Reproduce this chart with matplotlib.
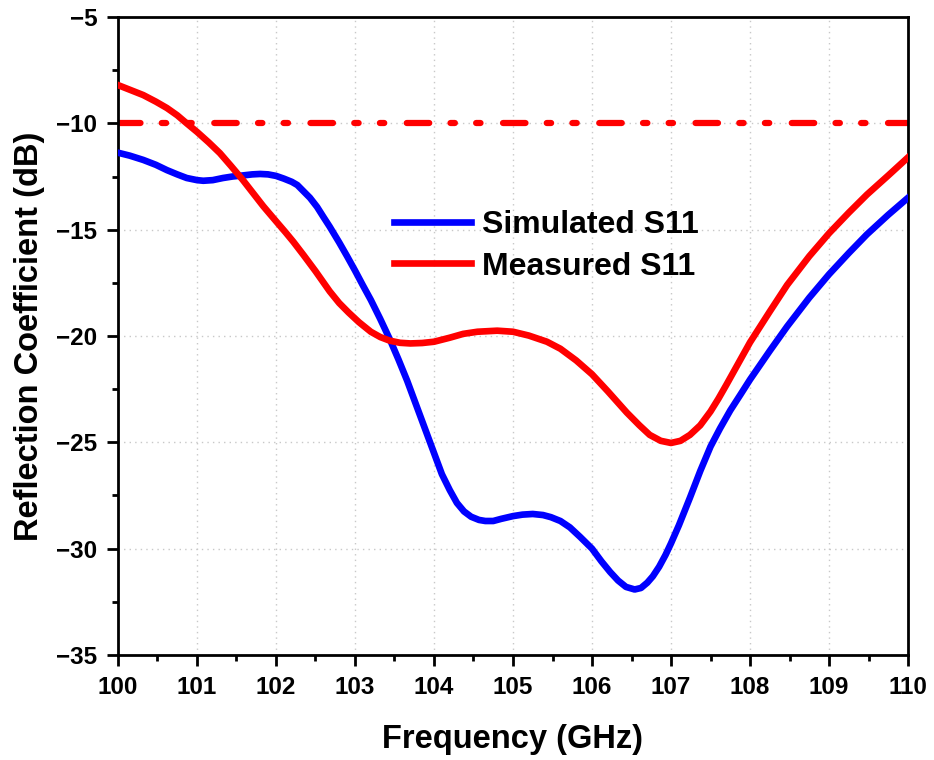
import matplotlib
matplotlib.use("Agg")
import matplotlib.pyplot as plt
from matplotlib.ticker import MultipleLocator

plt.rcParams["font.family"] = ["Liberation Sans", "DejaVu Sans"]
plt.rcParams["font.weight"] = "bold"

# simulated S11 (GHz, dB)
sim_freq = [100.0, 100.15, 100.32, 100.48, 100.62, 100.75, 100.87, 101.0, 101.08, 101.2,
            101.33, 101.45, 101.58, 101.7, 101.8, 101.9, 102.0, 102.1, 102.2, 102.27,
            102.35, 102.43, 102.52, 102.6, 102.68, 102.8, 102.9, 103.0, 103.1, 103.2,
            103.32, 103.44, 103.55, 103.66, 103.75, 103.85, 103.93, 104.0, 104.1, 104.2,
            104.29, 104.38, 104.47, 104.57, 104.65, 104.75, 104.85, 105.0, 105.12, 105.25,
            105.38, 105.48, 105.6, 105.72, 105.85, 106.0, 106.12, 106.23, 106.33, 106.43,
            106.54, 106.62, 106.7, 106.77, 106.85, 106.93, 107.0, 107.1, 107.24, 107.37,
            107.5, 107.62, 107.75, 107.88, 108.0, 108.25, 108.47, 108.75, 109.0, 109.25,
            109.48, 109.75, 110.0]
sim_s11 = [-11.38, -11.52, -11.72, -11.95, -12.2, -12.4, -12.57, -12.67, -12.7, -12.67,
           -12.57, -12.5, -12.45, -12.4, -12.38, -12.4, -12.47, -12.6, -12.75, -12.9,
           -13.2, -13.5, -13.93, -14.4, -14.86, -15.6, -16.25, -16.92, -17.62, -18.3,
           -19.2, -20.15, -21.1, -22.1, -23.0, -24.0, -24.8, -25.5, -26.5, -27.25,
           -27.85, -28.25, -28.5, -28.65, -28.7, -28.7, -28.6, -28.47, -28.4, -28.37,
           -28.42, -28.52, -28.7, -29.0, -29.45, -30.0, -30.6, -31.1, -31.5, -31.8,
           -31.92, -31.85, -31.6, -31.3, -30.85, -30.3, -29.75, -28.9, -27.6, -26.35,
           -25.2, -24.35, -23.5, -22.75, -22.05, -20.7, -19.55, -18.2, -17.1, -16.1,
           -15.22, -14.3, -13.5]

# measured S11 (GHz, dB)
meas_freq = [100.0, 100.15, 100.32, 100.48, 100.62, 100.75, 100.87, 101.0, 101.15, 101.29,
             101.43, 101.58, 101.71, 101.84, 102.0, 102.12, 102.22, 102.35, 102.5, 102.68,
             102.8, 102.92, 103.05, 103.2, 103.32, 103.44, 103.57, 103.7, 103.85, 104.0,
             104.2, 104.37, 104.55, 104.8, 105.0, 105.2, 105.43, 105.6, 105.8, 106.0,
             106.2, 106.44, 106.6, 106.73, 106.87, 107.0, 107.12, 107.24, 107.37, 107.5,
             107.6, 107.7, 107.85, 108.0, 108.25, 108.47, 108.75, 109.0, 109.25, 109.48,
             109.75, 110.0]
meas_s11 = [-8.2, -8.42, -8.67, -8.98, -9.28, -9.62, -10.0, -10.4, -10.9, -11.4,
            -12.0, -12.66, -13.28, -13.9, -14.6, -15.12, -15.57, -16.2, -16.95, -17.9,
            -18.45, -18.9, -19.35, -19.8, -20.05, -20.22, -20.32, -20.35, -20.33, -20.27,
            -20.08, -19.9, -19.8, -19.75, -19.8, -19.98, -20.27, -20.6, -21.15, -21.8,
            -22.6, -23.6, -24.2, -24.65, -24.93, -25.03, -24.93, -24.65, -24.2, -23.55,
            -22.95, -22.3, -21.3, -20.3, -18.85, -17.6, -16.25, -15.17, -14.2, -13.35,
            -12.45, -11.6]

threshold = -10

fig = plt.figure(figsize=(9.34, 7.6), dpi=100)
ax = fig.add_axes([0.1263, 0.1382, 0.8459, 0.8394])

ax.plot([100, 110], [threshold, threshold], color="red", lw=4.5,
        dashes=(3.6, 3.4, 0.7, 3.4, 0.7, 3.6), dash_capstyle="round", zorder=2)
ax.plot(sim_freq, sim_s11, color="blue", lw=4.8, solid_joinstyle="round",
        label="Simulated S11", zorder=3)
ax.plot(meas_freq, meas_s11, color="red", lw=4.8, solid_joinstyle="round",
        label="Measured S11", zorder=3)

ax.set_xlim(100, 110)
ax.set_ylim(-35, -5)
ax.xaxis.set_major_locator(MultipleLocator(1))
ax.xaxis.set_minor_locator(MultipleLocator(0.5))
ax.yaxis.set_major_locator(MultipleLocator(5))
ax.yaxis.set_minor_locator(MultipleLocator(2.5))
ax.tick_params(which="major", direction="out", length=8, width=2, labelsize=17.5, pad=7)
ax.tick_params(which="minor", direction="out", length=4, width=2)
for sp in ax.spines.values():
    sp.set_linewidth(2)

ax.grid(True, which="major", color="#c8c8c8", linestyle=(0, (1, 3)), linewidth=1)
ax.set_axisbelow(True)

ax.set_xlabel("Frequency (GHz)", fontsize=23.5, fontweight="bold", labelpad=18)
ax.set_ylabel("Reflection Coefficient (dB)", fontsize=23.5, fontweight="bold", labelpad=8)

ax.legend(loc="upper left", bbox_to_anchor=(0.333, 0.717), frameon=False,
          fontsize=23, handlelength=2.4, handletextpad=0.35, labelspacing=0.35,
          borderaxespad=0)

fig.savefig("out.png", dpi=100)
